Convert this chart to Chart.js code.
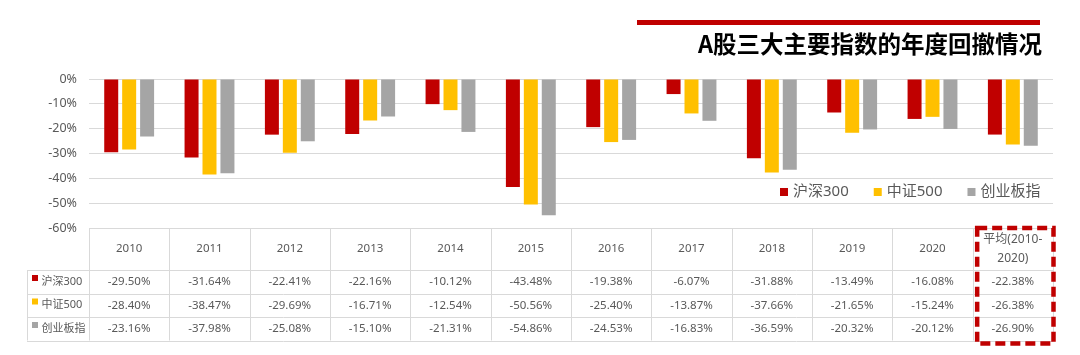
<!DOCTYPE html>
<html>
<head>
<meta charset="utf-8">
<script src="https://cdn.jsdelivr.net/npm/chart.js@4.4.1/dist/chart.umd.min.js"></script>
<style>
  html, body { margin: 0; padding: 0; background: #fff; }
  #wrap { position: relative; width: 1080px; height: 355px; overflow: hidden; }
  #title-line { position: absolute; left: 637px; top: 20px; width: 403px; height: 5px; background: #c00000; }
  #title { position: absolute; right: 38px; top: 26px; font-family: "Noto Sans CJK SC", sans-serif; font-weight: 700; font-size: 23.5px; color: #000; white-space: nowrap; line-height: 34px; }
  canvas { position: absolute; left: 0; top: 0; }
</style>
</head>
<body>
<div id="wrap">
  <canvas id="c" width="1080" height="355"></canvas>
  <div id="title-line"></div>
  <div id="title">A股三大主要指数的年度回撤情况</div>
</div>
<script>
const categories = ["2010","2011","2012","2013","2014","2015","2016","2017","2018","2019","2020","平均(2010-2020)"];
const headerLines = [["2010"],["2011"],["2012"],["2013"],["2014"],["2015"],["2016"],["2017"],["2018"],["2019"],["2020"],["平均(2010-","2020)"]];
const seriesNames = ["沪深300","中证500","创业板指"];
const hs300 = [-29.50,-31.64,-22.41,-22.16,-10.12,-43.48,-19.38,-6.07,-31.88,-13.49,-16.08,-22.38];
const zz500 = [-28.40,-38.47,-29.69,-16.71,-12.54,-50.56,-25.40,-13.87,-37.66,-21.65,-15.24,-26.38];
const cybz  = [-23.16,-37.98,-25.08,-15.10,-21.31,-54.86,-24.53,-16.83,-36.59,-20.32,-20.12,-26.90];
const yTicks = [0,-10,-20,-30,-40,-50,-60];
const colors = ["#c00000","#ffc000","#a5a5a5"];

const FONT = '"Noto Sans", "Noto Sans CJK SC", sans-serif';

const tablePlugin = {
  id: 'tableAndLegend',
  afterDraw(chart) {
    const ctx = chart.ctx;
    const xs = chart.scales.x;
    const ys = chart.scales.y;
    const n = categories.length;
    const w = (xs.right - xs.left) / n;
    const top = ys.getPixelForValue(-60);
    const headerBottom = top + 42;
    const rowH = 23.5;
    const rowTops = [headerBottom, headerBottom + rowH, headerBottom + 2*rowH];
    const bottom = headerBottom + 3*rowH;
    const labelLeft = 27;
    const left = xs.left;
    const right = xs.right;
    ctx.save();
    ctx.strokeStyle = "#d9d9d9";
    ctx.lineWidth = 1;
    ctx.beginPath();
    ctx.moveTo(left, top + 0.5); ctx.lineTo(right, top + 0.5);
    for (let i = 0; i < 4; i++) {
      const y = Math.round(headerBottom + i*rowH) + 0.5;
      ctx.moveTo(labelLeft, y); ctx.lineTo(right, y);
    }
    for (let i = 0; i <= n; i++) {
      const x = Math.round(left + i*w) + 0.5;
      ctx.moveTo(x, top); ctx.lineTo(x, bottom);
    }
    ctx.moveTo(labelLeft + 0.5, headerBottom); ctx.lineTo(labelLeft + 0.5, bottom);
    ctx.stroke();

    // header text
    ctx.fillStyle = "#595959";
    ctx.textAlign = "center";
    ctx.textBaseline = "middle";
    for (let i = 0; i < n; i++) {
      const cx = xs.getPixelForValue(i);
      const lines = headerLines[i];
      if (lines.length === 1) {
        ctx.font = "11.5px " + FONT;
        ctx.fillText(lines[0], cx, (top + headerBottom)/2);
      } else {
        ctx.font = "12px " + FONT;
        ctx.fillText(lines[0], cx, top + 12);
        ctx.fillText(lines[1], cx, top + 31);
      }
    }
    // rows
    const data = [hs300, zz500, cybz];
    for (let r = 0; r < 3; r++) {
      const cy = rowTops[r] + rowH/2;
      ctx.font = "11.5px " + FONT;
      ctx.textAlign = "center";
      ctx.fillStyle = "#595959";
      for (let i = 0; i < n; i++) {
        ctx.fillText(data[r][i].toFixed(2) + "%", xs.getPixelForValue(i), cy);
      }
      ctx.fillStyle = colors[r];
      ctx.fillRect(32, rowTops[r] + 5, 6, 6);
      ctx.fillStyle = "#595959";
      ctx.textAlign = "left";
      ctx.font = "11px " + FONT;
      ctx.fillText(seriesNames[r], 41.5, cy);
    }

    // dashed highlight box around the average column
    const lastLeft = left + (n-1)*w;
    ctx.strokeStyle = "#c00000";
    ctx.lineWidth = 4.5;
    ctx.setLineDash([10, 5]);
    ctx.strokeRect(lastLeft + 4.5, top, w - 4, bottom - top + 3);
    ctx.setLineDash([]);

    // legend
    ctx.font = "15px " + FONT;
    ctx.textAlign = "left";
    ctx.textBaseline = "middle";
    const ly = ys.getPixelForValue(-45.5);
    let lx = 780;
    for (let s = 0; s < 3; s++) {
      ctx.fillStyle = colors[s];
      ctx.fillRect(lx, ly - 4, 8, 8);
      ctx.fillStyle = "#595959";
      ctx.fillText(seriesNames[s], lx + 13, ly);
      lx += 13 + ctx.measureText(seriesNames[s]).width + 25;
    }
    ctx.restore();
  }
};

new Chart(document.getElementById('c'), {
  type: 'bar',
  data: {
    labels: categories,
    datasets: seriesNames.map((name, i) => ({
      label: name,
      data: [hs300, zz500, cybz][i],
      backgroundColor: colors[i],
      borderWidth: 0,
      barPercentage: 0.78,
      categoryPercentage: 0.67
    }))
  },
  options: {
    responsive: false,
    animation: false,
    devicePixelRatio: 1,
    layout: { padding: { left: 0, top: 79, right: 27, bottom: 127 } },
    plugins: { legend: { display: false }, tooltip: { enabled: false } },
    scales: {
      x: { display: false, offset: true },
      y: {
        min: -60, max: 0,
        afterBuildTicks(scale) { scale.ticks = yTicks.map(v => ({ value: v })); },
        afterFit(scale) { scale.width = 89; },
        border: { display: false },
        grid: { color: "#d9d9d9", lineWidth: 1, drawTicks: false },
        ticks: {
          padding: 12,
          color: "#595959",
          font: { family: FONT, size: 12.5 },
          callback: v => v + "%"
        }
      }
    }
  },
  plugins: [tablePlugin]
});
</script>
</body>
</html>
